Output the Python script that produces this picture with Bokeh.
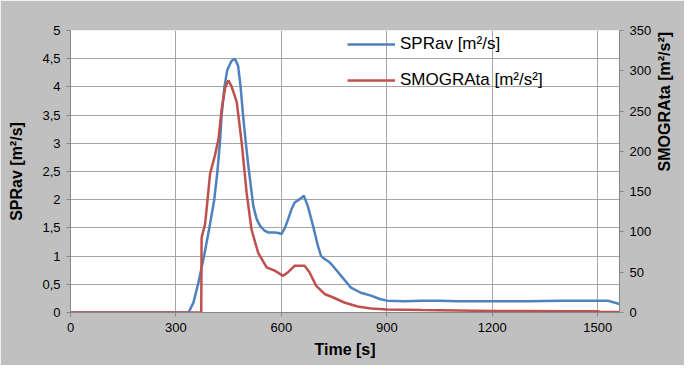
import math
from bokeh.plotting import figure
from bokeh.models import Range1d, LinearAxis, FixedTicker, CustomJSTickFormatter, Legend, LegendItem
from bokeh.embed import file_html
from bokeh.resources import INLINE

# SPRav [m²/s] (left axis)
spr_t = [0, 336, 350, 364, 380, 395, 409, 418, 425, 430, 438, 446, 458, 468, 477, 484, 491, 499, 506,
         520, 530, 539, 552, 562, 581, 592, 600, 610, 619, 630, 638, 652, 664, 675, 690, 704, 713, 723,
         735, 746, 770, 798, 826, 855, 880, 900, 950, 1000, 1050, 1100, 1200, 1300, 1400, 1500, 1528, 1562]
spr_v = [0, 0, 0.18, 0.53, 1.0, 1.5, 2.0, 2.5, 3.0, 3.5, 4.0, 4.3, 4.46, 4.5, 4.37, 4.0, 3.49, 3.0, 2.6,
         1.89, 1.65, 1.54, 1.45, 1.42, 1.42, 1.41, 1.39, 1.5, 1.65, 1.85, 1.95, 2.01, 2.07, 1.89, 1.54, 1.18, 1.0, 0.95,
         0.9, 0.83, 0.65, 0.44, 0.35, 0.30, 0.24, 0.21, 0.2, 0.21, 0.21, 0.2, 0.2, 0.2, 0.21, 0.21, 0.21, 0.15]

# SMOGRAta [m²/s²] (right axis)
smog_t = [0, 372, 373, 383, 390, 397, 411, 421, 430, 440, 449, 458, 473, 487, 501, 515, 534, 558, 581,
          605, 619, 638, 666, 680, 699, 723, 751, 779, 817, 855, 900, 1000, 1100, 1200, 1300, 1400, 1500, 1510, 1562]
smog_v = [0, 0, 93, 110, 140, 172, 195, 215, 252, 279, 288, 281, 261, 211, 149, 103, 74, 56, 52,
          45.5, 50, 58, 58, 50, 33, 23, 18, 12.4, 7.4, 5, 3.7, 3, 2.5, 2, 2, 1.5, 1.5, 0.5, 0.5]

x_ticks = [0, 300, 600, 900, 1200, 1500]
left_ticks = [0, 0.5, 1, 1.5, 2, 2.5, 3, 3.5, 4, 4.5, 5]
right_ticks = [0, 50, 100, 150, 200, 250, 300, 350]

BLUE = "#4f81bd"
RED = "#c0504d"
BG = "#c0c0c0"
GRID = "#a6a6a6"
FONT = "Liberation Sans"

p = figure(width=684, height=365, output_backend="svg", toolbar_location=None,
           x_range=Range1d(0, 1562), y_range=Range1d(0, 5),
           min_border_left=70, min_border_right=62, min_border_top=30, min_border_bottom=53)
p.extra_y_ranges = {"r": Range1d(0, 350)}
p.border_fill_color = BG
p.background_fill_color = "white"
p.outline_line_color = None

r1 = p.line(spr_t, spr_v, line_color=BLUE, line_width=2.5)
r2 = p.line(smog_t, smog_v, line_color=RED, line_width=2.5, y_range_name="r")

p.xaxis.ticker = FixedTicker(ticks=x_ticks)
p.yaxis.ticker = FixedTicker(ticks=left_ticks)
p.yaxis.formatter = CustomJSTickFormatter(code="return tick.toString().replace('.', ',');")
p.xaxis.axis_label = "Time [s]"
p.yaxis.axis_label = "SPRav [m²/s]"

ra = LinearAxis(y_range_name="r", ticker=FixedTicker(ticks=right_ticks), axis_label="SMOGRAta [m²/s²]")
p.add_layout(ra, "right")

for ax in [p.xaxis[0], p.yaxis[0], ra]:
    ax.axis_line_color = "#868686"
    ax.major_tick_line_color = "#868686"
    ax.major_tick_out = 4
    ax.major_tick_in = 0
    ax.minor_tick_line_color = None
    ax.major_label_text_font = FONT
    ax.major_label_text_font_size = "13px"
    ax.major_label_text_color = "black"
    ax.axis_label_text_font = FONT
    ax.axis_label_text_font_size = "16px"
    ax.axis_label_text_font_style = "bold"
    ax.axis_label_text_color = "black"
    ax.major_label_standoff = 6

p.yaxis[0].axis_label_standoff = 14
ra.axis_label_standoff = 10
ra.axis_label_orientation = math.pi / 2
p.xaxis[0].axis_label_standoff = 6

p.xgrid.grid_line_color = GRID
p.ygrid.grid_line_color = GRID
p.xgrid.ticker = FixedTicker(ticks=x_ticks)
p.ygrid.ticker = FixedTicker(ticks=left_ticks)

legend = Legend(items=[LegendItem(label="SPRav [m²/s]", renderers=[r1]),
                       LegendItem(label="SMOGRAta [m²/s²]", renderers=[r2])],
                location=(277, 222), orientation="vertical")
legend.background_fill_alpha = 0
legend.border_line_color = None
legend.label_text_font = FONT
legend.label_text_font_size = "17px"
legend.label_text_color = "black"
legend.glyph_width = 48
legend.glyph_height = 20
legend.spacing = 16
legend.label_standoff = 5
legend.padding = 0
legend.margin = 0
p.add_layout(legend)

open("out.html", "w").write(file_html(p, INLINE))
